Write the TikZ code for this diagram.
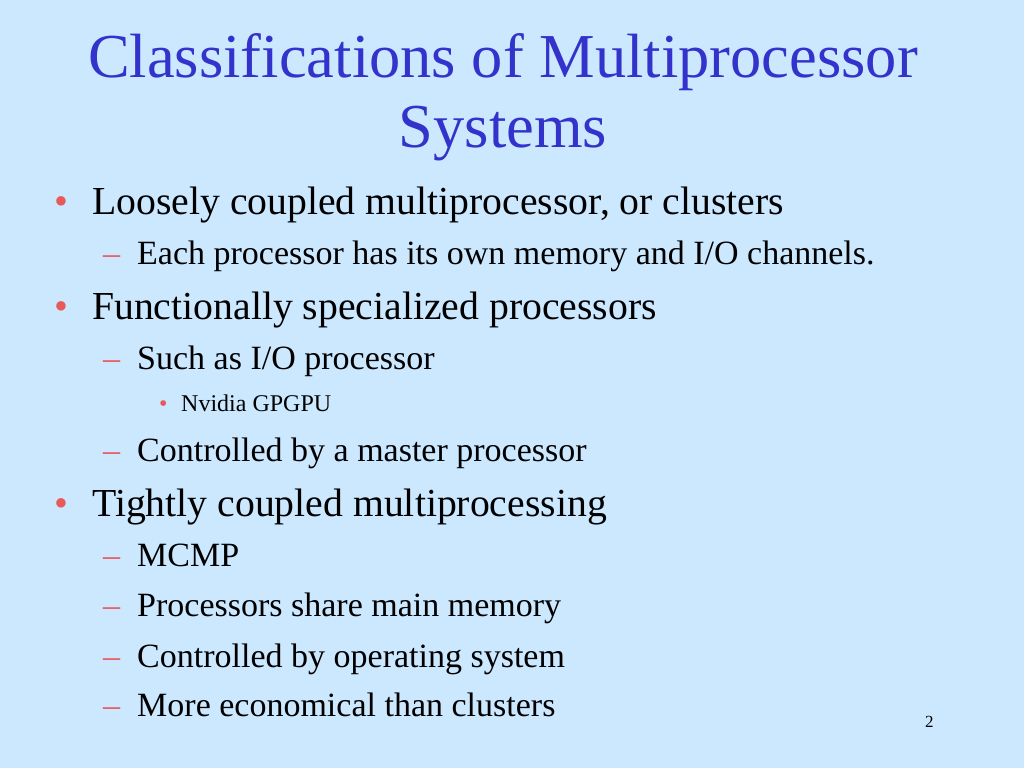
\documentclass[tikz,border=0pt]{standalone}
\usepackage{fontspec}
\setmainfont{Liberation Serif}
\definecolor{bg}{HTML}{CCE8FF}
\definecolor{ttl}{HTML}{3333CC}
\definecolor{bul}{HTML}{E85A5A}
\begin{document}
\begin{tikzpicture}[x=1pt,y=1pt,
  t/.style={anchor=base west,inner sep=0pt},
  l1/.style={t,font=\fontsize{39.7}{42}\selectfont},
  l2/.style={t,font=\fontsize{34}{37}\selectfont},
  l3/.style={t,font=\fontsize{24}{27}\selectfont},
  ttlf/.style={anchor=base,inner sep=0pt,text=ttl,font=\fontsize{62.5}{66}\selectfont}]
\fill[bg] (0,0) rectangle (1024,768);
\useasboundingbox (0,0) rectangle (1024,768);
\node[ttlf] (t1) at (503,690) {Classifications of Multiprocessor};
\node[ttlf] (t2) at (503,620) {Systems};
% level 1
\foreach \y/\s [count=\i] in {553/{Loosely coupled multiprocessor, or clusters},448/{Functionally specialized processors},251/{Tightly coupled multiprocessing}}{
  \node[l1,text=bul] (b\i) at (54,\y) {•};
  \node[l1] (a\i) at (92,\y) {\s};
}
% level 2
\foreach \y/\s [count=\i] in {503/{Each processor has its own memory and I/O channels.},398/{Such as I/O processor},306/{Controlled by a master processor},201/{MCMP},151/{Processors share main memory},101/{Controlled by operating system},52/{More economical than clusters}}{
  \node[l2,text=bul] (d\i) at (103,\y) {–};
  \node[l2] (c\i) at (137,\y) {\s};
}
% level 3
\node[l3,text=bul] (e1) at (159,356) {•};
\node[l3] (f1) at (181,356) {Nvidia GPGPU};
\node[t,font=\fontsize{17}{20}\selectfont] (pg) at (925,41) {2};
\end{tikzpicture}
\end{document}
